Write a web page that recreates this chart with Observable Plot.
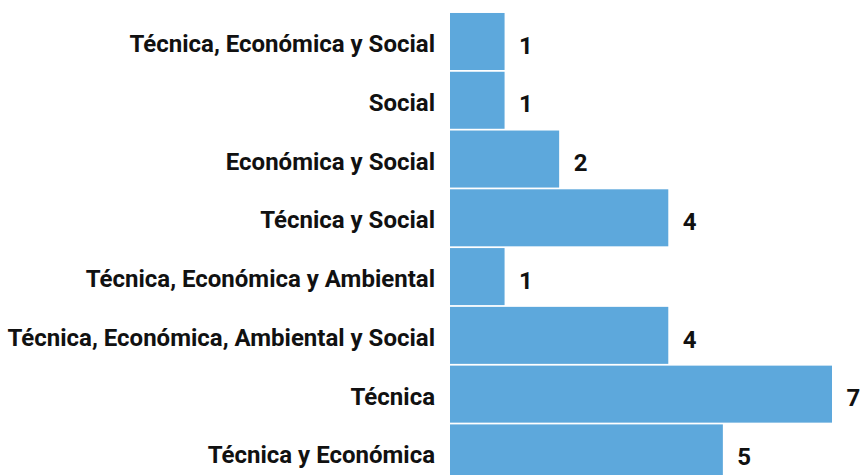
<!DOCTYPE html>
<html>
<head>
<meta charset="utf-8">
<script src="https://cdn.jsdelivr.net/npm/d3@7"></script>
<script src="https://cdn.jsdelivr.net/npm/@observablehq/plot@0.6"></script>
<style>
  html, body { margin: 0; padding: 0; background: #fff; overflow: hidden; }
  #chart { width: 860px; height: 475px; overflow: hidden; }
</style>
</head>
<body>
<div id="chart"></div>
<script>
const categories = [
  "Técnica, Económica y Social",
  "Social",
  "Económica y Social",
  "Técnica y Social",
  "Técnica, Económica y Ambiental",
  "Técnica, Económica, Ambiental y Social",
  "Técnica",
  "Técnica y Económica"
];
const values = [1, 1, 2, 4, 1, 4, 7, 5];

const data = categories.map((c, i) => ({category: c, value: values[i]}));

const font = "Roboto, 'Noto Sans', sans-serif";

const chart = Plot.plot({
  width: 860,
  height: 475,
  marginLeft: 0,
  marginRight: 0,
  marginTop: 0,
  marginBottom: 0,
  style: {fontFamily: font, background: "#fff"},
  x: {domain: [0, 7], range: [450, 832], axis: null},
  y: {domain: categories, range: [12.1, 482.3], paddingInner: 0.03, paddingOuter: 0.015, round: false, axis: null},
  marks: [
    Plot.barX(data, {y: "category", x: "value", fill: "#5DA8DC"}),
    Plot.text(data, {
      y: "category", x: 0, text: "category",
      textAnchor: "end", dx: -15.5, dy: 2.3,
      fontSize: 24, fontWeight: "bold", fill: "#111"
    }),
    Plot.text(data, {
      y: "category", x: "value", text: d => String(d.value),
      textAnchor: "start", dx: 14, dy: 4,
      fontSize: 24, fontWeight: "bold", fill: "#111"
    })
  ]
});
document.getElementById("chart").appendChild(chart);
</script>
</body>
</html>
